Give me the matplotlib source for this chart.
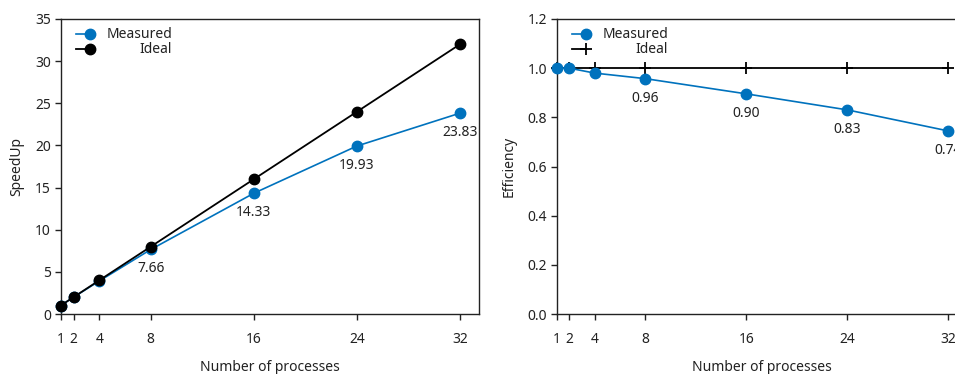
import matplotlib
matplotlib.use('Agg')
import matplotlib.pyplot as plt

plt.rcParams['font.family'] = ['Noto Sans', 'DejaVu Sans']
plt.rcParams['font.size'] = 10
plt.rcParams['text.color'] = '#222222'
plt.rcParams['axes.labelcolor'] = '#222222'
plt.rcParams['xtick.color'] = '#222222'
plt.rcParams['ytick.color'] = '#222222'

# data
processes = [1, 2, 4, 8, 16, 24, 32]
speedup_measured = [1.0, 2.0, 3.92, 7.66, 14.33, 19.93, 23.83]
speedup_ideal = [1, 2, 4, 8, 16, 24, 32]
efficiency_measured = [1.0, 1.0, 0.98, 0.9575, 0.8956, 0.8304, 0.7447]
efficiency_ideal = [1.0, 1.0, 1.0, 1.0, 1.0, 1.0, 1.0]
label_procs = [8, 16, 24, 32]

BLUE = '#0072BD'
W, H = 955, 374

fig = plt.figure(figsize=(W / 100, H / 100), dpi=100)
ax1 = fig.add_axes([60.7 / W, (H - 314) / H, 418.6 / W, 295 / H])
ax2 = fig.add_axes([556.7 / W, (H - 314) / H, 410.5 / W, 295 / H])


def style_axes(ax):
    ax.set_xlim(1, 33.5)
    ax.set_xticks(processes)
    ax.tick_params(direction='out', length=4, width=1, pad=9)
    ax.tick_params(axis='y', pad=3)
    for s in ax.spines.values():
        s.set_linewidth(1)
        s.set_color('#222222')
    ax.set_xlabel('Number of processes', labelpad=9)


def draw_legend(ax, x_mark, x_text, measured_kw, ideal_kw):
    # gnuplot-like key: symbol first, text right-aligned
    for y, label, kw in [(0.949, 'Measured', measured_kw), (0.898, 'Ideal', ideal_kw)]:
        ax.plot([x_mark - 0.017, x_mark + 0.017], [y, y], transform=ax.transAxes,
                clip_on=False, **kw)
        ax.text(x_text, y, label, transform=ax.transAxes, ha='right', va='center')


# SpeedUp
meas_kw = dict(color=BLUE, marker='o', markersize=7.5, lw=1.2, markevery=[1])
ax1.plot(processes, speedup_measured, color=BLUE, marker='o', markersize=7.5, lw=1.2,
         clip_on=False, zorder=3)
ax1.plot(processes, speedup_ideal, color='black', marker='o', markersize=7.5, lw=1.3,
         clip_on=False, zorder=4)
for p, v in zip(processes, speedup_measured):
    if p in label_procs:
        ax1.annotate(f'{v:.2f}', (p, v), xytext=(0, -14), textcoords='offset points',
                     ha='center', va='center')
ax1.set_ylim(0, 35)
ax1.set_yticks(range(0, 36, 5))
ax1.set_ylabel('SpeedUp', labelpad=8)
style_axes(ax1)
draw_legend(ax1, 0.053, 0.266, meas_kw,
            dict(color='black', marker='o', markersize=7.5, lw=1.3, markevery=[1]))

# Efficiency
ax2.plot(processes, efficiency_ideal, color='black', marker='+', markersize=8,
         markeredgewidth=1.3, lw=1.3, clip_on=False, zorder=3)
ax2.plot(processes, efficiency_measured, color=BLUE, marker='o', markersize=7.5, lw=1.2,
         clip_on=False, zorder=4)
for p, v in zip(processes, efficiency_measured):
    if p in label_procs:
        ax2.annotate(f'{v:.2f}', (p, v), xytext=(0, -14), textcoords='offset points',
                     ha='center', va='center')
ax2.set_ylim(0, 1.2)
ax2.set_yticks([0.0, 0.2, 0.4, 0.6, 0.8, 1.0, 1.2])
ax2.set_yticklabels([f'{t:.1f}' for t in ax2.get_yticks()])
ax2.set_ylabel('Efficiency', labelpad=8)
style_axes(ax2)
draw_legend(ax2, 0.054, 0.271, meas_kw,
            dict(color='black', marker='+', markersize=8, markeredgewidth=1.3, lw=1.3,
                 markevery=[1]))

fig.savefig('out.png', dpi=100)
